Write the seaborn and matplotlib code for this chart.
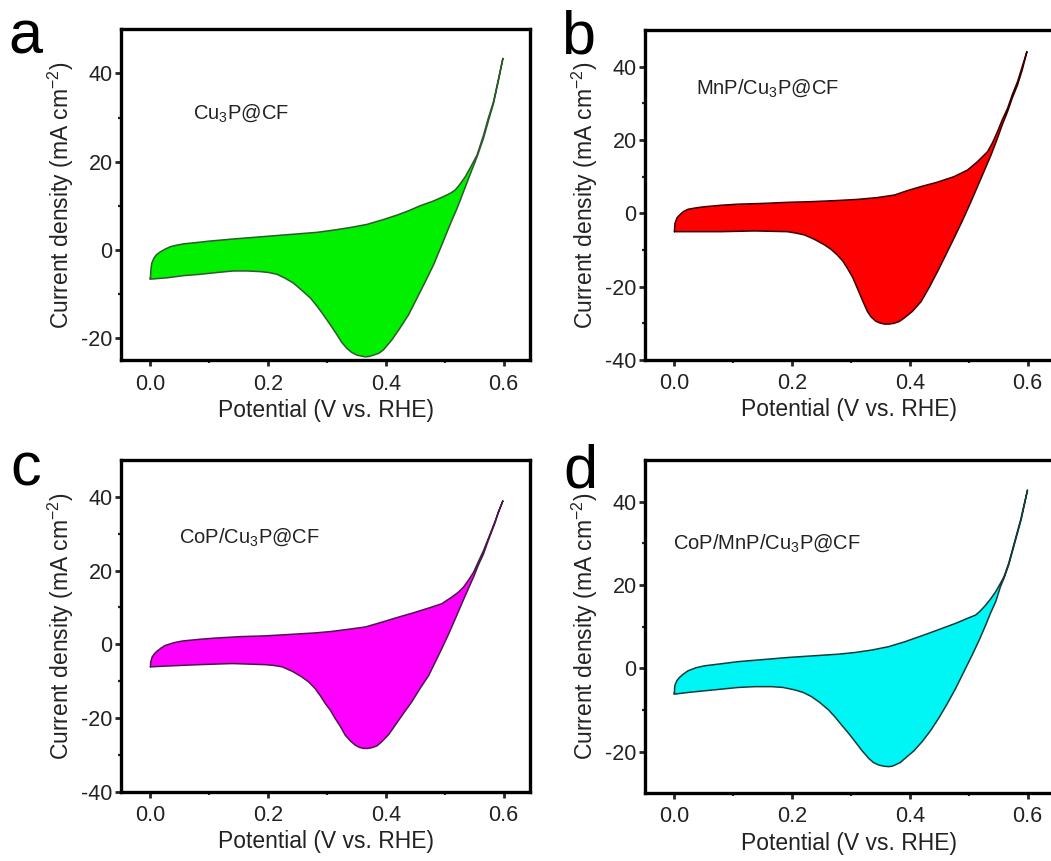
import numpy as np
import pandas as pd
import matplotlib
matplotlib.use("Agg")
import matplotlib.pyplot as plt
import seaborn as sns

# ---------------- data ----------------
# Panel a: Cu3P@CF  (forward / anodic sweep, then reverse sweep)
a_fwd_x = [0.0, 0.0005, 0.001, 0.0023, 0.0057, 0.010, 0.017, 0.025, 0.034, 0.045, 0.057, 0.079, 0.099, 0.141, 0.170, 0.198, 0.226, 0.255, 0.283, 0.311, 0.340, 0.368, 0.396, 0.419, 0.439, 0.458, 0.481, 0.498, 0.509, 0.518, 0.526, 0.535, 0.543, 0.555, 0.566, 0.574, 0.583, 0.591, 0.599]
a_fwd_y = [-6.4, -5.3, -4.15, -3.0, -1.9, -1.1, -0.4, 0.2, 0.75, 1.1, 1.4, 1.7, 2.0, 2.5, 2.8, 3.1, 3.4, 3.7, 4.0, 4.5, 5.1, 5.8, 6.9, 7.9, 8.9, 10.0, 11.1, 12.1, 12.8, 13.6, 14.9, 16.6, 18.5, 21.5, 26.0, 29.8, 33.6, 38.5, 43.4]
a_rev_x = [0.591, 0.583, 0.574, 0.566, 0.555, 0.543, 0.532, 0.521, 0.509, 0.495, 0.481, 0.467, 0.453, 0.439, 0.424, 0.410, 0.396, 0.388, 0.379, 0.372, 0.365, 0.358, 0.351, 0.342, 0.334, 0.325, 0.317, 0.306, 0.294, 0.283, 0.272, 0.257, 0.243, 0.229, 0.215, 0.201, 0.187, 0.164, 0.141, 0.113, 0.085, 0.057, 0.028, 0.0]
a_rev_y = [38.1, 33.2, 29.1, 25.3, 21.1, 17.0, 13.2, 9.4, 5.7, 1.1, -3.4, -7.2, -10.9, -14.6, -17.7, -20.4, -22.6, -23.4, -23.8, -24.1, -24.2, -24.0, -23.8, -23.2, -22.3, -20.9, -19.2, -17.0, -14.7, -12.7, -10.9, -9.1, -7.5, -6.4, -5.5, -5.1, -4.9, -4.75, -4.75, -5.1, -5.5, -5.8, -6.3, -6.6]

# Panel b: MnP/Cu3P@CF
b_fwd_x = [0.0, 0.0005, 0.001, 0.0045, 0.0085, 0.015, 0.023, 0.037, 0.051, 0.079, 0.108, 0.150, 0.192, 0.235, 0.277, 0.311, 0.345, 0.374, 0.396, 0.419, 0.447, 0.475, 0.498, 0.515, 0.532, 0.540, 0.549, 0.557, 0.566, 0.574, 0.583, 0.591, 0.599]
b_fwd_y = [-5.0, -3.6, -2.7, -1.2, -0.5, 0.45, 1.1, 1.5, 1.8, 2.2, 2.5, 2.7, 3.0, 3.2, 3.5, 3.8, 4.3, 5.0, 6.2, 7.3, 8.5, 10.0, 11.8, 14.1, 16.8, 19.1, 22.3, 25.5, 28.6, 32.3, 35.9, 40.0, 44.1]
b_rev_x = [0.591, 0.583, 0.574, 0.566, 0.557, 0.549, 0.538, 0.526, 0.515, 0.504, 0.490, 0.475, 0.461, 0.447, 0.433, 0.419, 0.404, 0.390, 0.382, 0.373, 0.365, 0.357, 0.349, 0.342, 0.334, 0.328, 0.320, 0.311, 0.303, 0.294, 0.286, 0.277, 0.266, 0.255, 0.238, 0.221, 0.207, 0.192, 0.136, 0.079, 0.023, 0.0]
b_rev_y = [39.1, 35.0, 31.4, 27.7, 24.1, 20.5, 15.9, 11.4, 7.3, 3.2, -1.8, -6.8, -11.4, -15.9, -20.2, -24.1, -26.8, -28.6, -29.5, -30.0, -30.2, -30.2, -29.9, -29.4, -28.2, -26.8, -23.9, -20.5, -17.5, -15.0, -13.0, -11.4, -9.8, -8.6, -7.1, -5.9, -5.4, -5.0, -4.8, -5.0, -5.0, -5.0]

# Panel c: CoP/Cu3P@CF
c_fwd_x = [0.0, 0.0005, 0.003, 0.007, 0.011, 0.018, 0.025, 0.040, 0.054, 0.082, 0.110, 0.153, 0.195, 0.238, 0.280, 0.308, 0.337, 0.365, 0.393, 0.422, 0.450, 0.478, 0.495, 0.512, 0.523, 0.532, 0.540, 0.549, 0.557, 0.566, 0.574, 0.586, 0.599]
c_fwd_y = [-6.1, -4.8, -3.4, -2.5, -1.9, -1.0, -0.3, 0.45, 0.9, 1.35, 1.7, 2.1, 2.3, 2.7, 3.1, 3.5, 4.1, 4.7, 6.0, 7.4, 8.7, 10.1, 11.0, 12.8, 14.1, 15.5, 17.3, 19.5, 22.3, 25.4, 28.6, 33.5, 38.9]
c_rev_x = [0.591, 0.586, 0.574, 0.566, 0.557, 0.549, 0.540, 0.529, 0.518, 0.507, 0.495, 0.484, 0.473, 0.458, 0.444, 0.430, 0.416, 0.405, 0.393, 0.385, 0.376, 0.369, 0.362, 0.355, 0.348, 0.340, 0.331, 0.323, 0.314, 0.306, 0.297, 0.289, 0.280, 0.269, 0.257, 0.241, 0.224, 0.209, 0.195, 0.139, 0.082, 0.025, 0.0]
c_rev_y = [35.8, 33.1, 28.1, 24.5, 21.4, 18.2, 15.0, 11.0, 6.9, 2.9, -1.2, -4.8, -8.4, -12.0, -15.6, -18.7, -21.9, -24.4, -26.4, -27.5, -28.0, -28.2, -28.2, -27.9, -27.3, -26.2, -24.6, -22.3, -20.1, -17.9, -16.0, -14.0, -12.0, -10.2, -8.8, -7.3, -6.1, -5.7, -5.5, -5.2, -5.5, -5.9, -6.1]

# Panel d: CoP/MnP/Cu3P@CF
d_fwd_x = [0.0, 0.0003, 0.001, 0.004, 0.0085, 0.015, 0.023, 0.037, 0.051, 0.080, 0.108, 0.151, 0.193, 0.236, 0.279, 0.307, 0.336, 0.364, 0.392, 0.412, 0.432, 0.455, 0.478, 0.498, 0.512, 0.520, 0.529, 0.537, 0.546, 0.554, 0.560, 0.568, 0.575, 0.582, 0.589, 0.594, 0.600]
d_fwd_y = [-6.0, -4.8, -4.0, -3.0, -2.2, -1.4, -0.6, 0.15, 0.6, 1.1, 1.6, 2.1, 2.6, 3.0, 3.4, 3.8, 4.4, 5.2, 6.4, 7.4, 8.4, 9.6, 10.8, 12.0, 12.8, 13.8, 15.2, 16.6, 18.4, 20.4, 22.0, 25.2, 28.8, 32.4, 36.0, 39.2, 42.8]
d_rev_x = [0.594, 0.589, 0.582, 0.575, 0.568, 0.560, 0.554, 0.546, 0.537, 0.529, 0.518, 0.506, 0.492, 0.478, 0.464, 0.449, 0.435, 0.421, 0.407, 0.392, 0.384, 0.375, 0.370, 0.364, 0.356, 0.347, 0.338, 0.330, 0.319, 0.307, 0.296, 0.284, 0.273, 0.262, 0.247, 0.233, 0.219, 0.205, 0.185, 0.165, 0.137, 0.108, 0.080, 0.051, 0.023, 0.0]
d_rev_y = [38.8, 35.6, 32.0, 28.4, 24.8, 21.6, 19.6, 16.0, 13.2, 10.4, 6.8, 3.2, -0.8, -4.8, -8.4, -12.0, -15.0, -17.6, -19.8, -21.6, -22.6, -23.2, -23.5, -23.6, -23.5, -23.2, -22.6, -21.6, -19.8, -17.6, -15.6, -13.6, -11.7, -10.0, -8.2, -6.8, -5.8, -5.2, -4.6, -4.4, -4.4, -4.6, -5.0, -5.4, -5.8, -6.2]

labels = ["Cu$_3$P@CF", "MnP/Cu$_3$P@CF", "CoP/Cu$_3$P@CF", "CoP/MnP/Cu$_3$P@CF"]
letters = ["a", "b", "c", "d"]
fill_colors = ["#00f000", "#ff0000", "#ff00ff", "#00f5f5"]
edge_colors = ["#2e5a2e", "#3a0000", "#4a1a4a", "#143c3c"]
y_limits = [(-25, 50), (-40, 50), (-40, 50), (-30, 50)]
y_ticks = [[-20, 0, 20, 40], [-40, -20, 0, 20, 40], [-40, -20, 0, 20, 40], [-20, 0, 20, 40]]
x_ticks = [0.0, 0.2, 0.4, 0.6]
label_pos = [(0.072, 30.9), (0.037, 34.1), (0.048, 29.0), (-0.003, 30.0)]

fwd = [(a_fwd_x, a_fwd_y), (b_fwd_x, b_fwd_y), (c_fwd_x, c_fwd_y), (d_fwd_x, d_fwd_y)]
rev = [(a_rev_x, a_rev_y), (b_rev_x, b_rev_y), (c_rev_x, c_rev_y), (d_rev_x, d_rev_y)]

# ---------------- style ----------------
sns.set_theme(style="ticks")
plt.rcParams["font.family"] = ["Liberation Sans", "DejaVu Sans"]
plt.rcParams["mathtext.fontset"] = "custom"
plt.rcParams["mathtext.rm"] = "Liberation Sans"
plt.rcParams["mathtext.it"] = "Liberation Sans:italic"
plt.rcParams["mathtext.bf"] = "Liberation Sans:bold"
plt.rcParams["axes.unicode_minus"] = False

W, H = 1051, 861
fig = plt.figure(figsize=(W / 100, H / 100), dpi=100)
fig.patch.set_facecolor("white")

# axes boxes in pixels: (left, top, width, height)
boxes = [(121, 29.2, 409, 331.2), (645, 30.0, 409, 330.0),
         (121, 459.8, 409, 332.2), (645, 460.0, 409, 333.3)]
letter_pos = [(8, 53), (561, 53), (10, 485), (563, 487)]

for i in range(4):
    l, t, w, h = boxes[i]
    ax = fig.add_axes([l / W, (H - t - h) / H, w / W, h / H])
    xs = list(fwd[i][0]) + list(rev[i][0])
    ys = list(fwd[i][1]) + list(rev[i][1])
    df = pd.DataFrame({"E": xs, "j": ys})
    ax.fill(df["E"], df["j"], color=fill_colors[i], lw=0, zorder=1)
    sns.lineplot(data=df, x="E", y="j", sort=False, estimator=None,
                 color=edge_colors[i], lw=1.1, ax=ax, zorder=2,
                 solid_joinstyle="round", solid_capstyle="round")
    ax.plot([xs[-1], xs[0]], [ys[-1], ys[0]], color=edge_colors[i], lw=1.1, zorder=2)

    ax.set_xlim(-0.05, 0.645)
    ax.set_ylim(*y_limits[i])
    ax.set_xticks(x_ticks)
    ax.set_xticks([0.1, 0.3, 0.5], minor=True)
    ax.set_yticks(y_ticks[i])
    lo, hi = y_limits[i]
    ax.set_yticks([v for v in range(-30, 50, 20) if lo < v < hi], minor=True)
    ax.xaxis.set_major_formatter(matplotlib.ticker.FormatStrFormatter("%.1f"))

    for s in ax.spines.values():
        s.set_linewidth(2.4)
        s.set_color("black")
    ax.tick_params(axis="both", which="major", direction="out", length=4.5, width=2.0,
                   labelsize=15.5, labelcolor="#222222", top=False, right=False)
    ax.tick_params(axis="x", which="major", pad=5)
    ax.tick_params(axis="y", which="major", pad=1.5)
    ax.tick_params(axis="both", which="minor", direction="out", length=2.5, width=1.6,
                   top=False, right=False)
    ax.set_xlabel("Potential (V vs. RHE)", fontsize=16.5, color="#222222", labelpad=3)
    ax.set_ylabel("Current density (mA cm$^{-2}$)", fontsize=16.5, color="#222222", labelpad=3.5)
    ax.text(label_pos[i][0], label_pos[i][1], labels[i], fontsize=14.5, color="#222222",
            ha="left", va="center")
    lx, ly = letter_pos[i]
    fig.text(lx / W, 1 - ly / H, letters[i], fontsize=44, color="black",
             ha="left", va="baseline")

fig.savefig("out.png", dpi=100, facecolor="white")
